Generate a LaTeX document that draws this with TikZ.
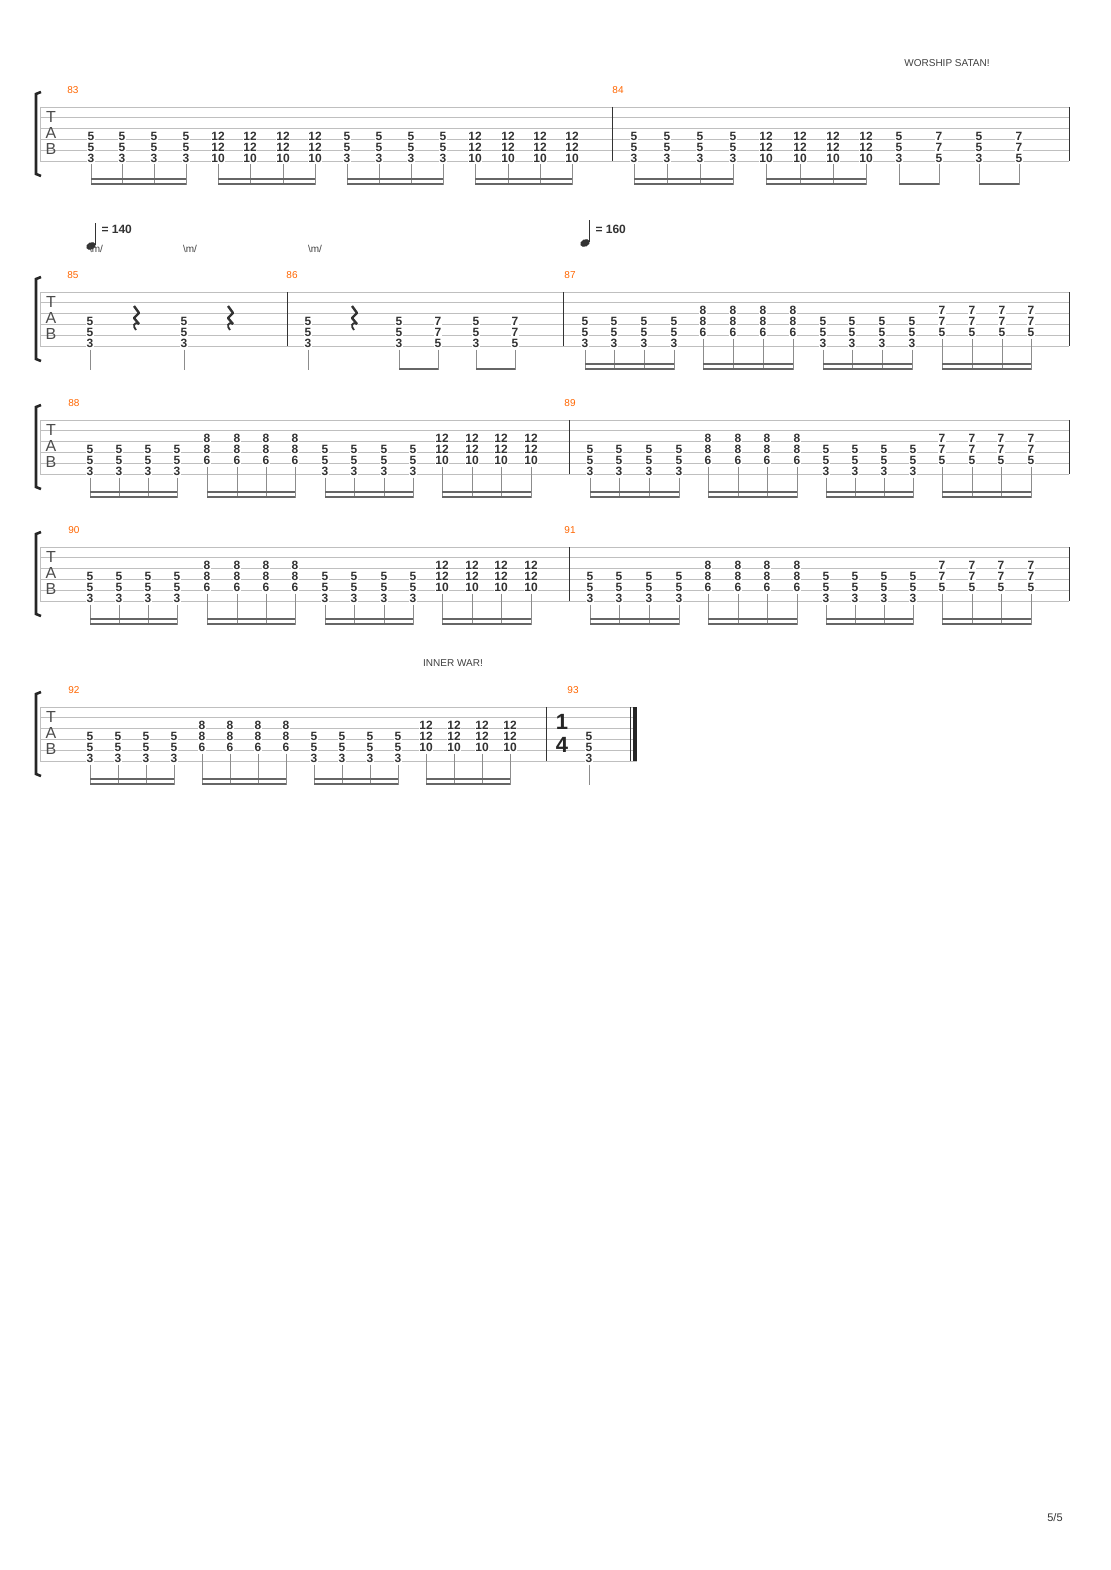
\documentclass[tikz,border=0pt]{standalone}
\usepackage{fontspec}
\setmainfont{Liberation Sans}
\tikzset{
  fret/.style={font=\fontsize{12}{12}\selectfont\bfseries, text=black!80, inner sep=0.2pt, fill=white},
  barnum/.style={font=\fontsize{10}{10}\selectfont, text=orange!80!red},
  staffline/.style={draw=black!25, line width=0.8pt},
  stem/.style={draw=black!45, line width=0.9pt},
  beamline/.style={draw=black!60, line width=2.4pt},
  barline/.style={draw=black!80, line width=1pt},
  lbl/.style={font=\fontsize{10}{10}\selectfont, text=black!75}
}
% chord: x, staff top, lowest string, three frets
\newcommand\chd[6]{%
  \pgfmathsetmacro\yl{#2+(#3-1)*10.8}
  \node[fret] at (#1,\yl-24.4) {#4};
  \node[fret] at (#1,\yl-13.6) {#5};
  \node[fret] at (#1,\yl-2.8) {#6};
  \draw[stem] (#1,\yl+3.5) -- (#1,#2+78);}
% beams: x1, x2, top
\newcommand\beamtwo[3]{\draw[beamline] (#1,#3+72) -- (#2,#3+72); \draw[beamline] (#1,#3+77) -- (#2,#3+77);}
\newcommand\beamone[3]{\draw[beamline] (#1,#3+77) -- (#2,#3+77);}
% staff: top, right end
\newcommand\staff[2]{%
  \foreach \i in {0,...,5} \draw[staffline] (40,#1+\i*10.8) -- (#2,#1+\i*10.8);
  \draw[staffline] (40,#1) -- (40,#1+54);
  \draw[line width=2.6pt, black!85] (41,#1-15) -- (36,#1-13) -- (36,#1+67) -- (41,#1+69);
  \node[font=\fontsize{16}{16}\selectfont, text=black!70] at (51,#1+10) {T};
  \node[font=\fontsize{16}{16}\selectfont, text=black!70] at (51,#1+26) {A};
  \node[font=\fontsize{16}{16}\selectfont, text=black!70] at (51,#1+42) {B};}
\newcommand\qrest[2]{%
  \draw[line width=2.4pt, black!80, line join=round] (#1-2,#2-9) -- (#1+3,#2-2) -- (#1-2,#2+3) -- (#1+3,#2+9);
  \draw[line width=1.8pt, black!80] (#1+3,#2+9) .. controls (#1-3,#2+6) and (#1-3,#2+12) .. (#1,#2+15);}
\newcommand\tnote[2]{%
  \fill[black!80, rotate around={25:(#1,#2)}] (#1,#2) ellipse (5 and 3.6);
  \draw[black!80, line width=0.9pt] (#1+4.3,#2-1) -- (#1+4.3,#2-23);}
\begin{document}
\begin{tikzpicture}[x=1pt,y=-1pt]
\useasboundingbox (0,0) rectangle (1110,1570);
\fill[white] (0,0) rectangle (1110,1570);
\node[lbl] (title1) at (947,63) {WORSHIP SATAN!};
% system 1
\staff{107}{1069}
\draw[barline] (612,107) -- (612,161);
\draw[barline] (1069,107) -- (1069,161);
\node[barnum] (m83) at (73,90) {83};
\node[barnum] (m84) at (618,90) {84};
\foreach \x in {91,122,154,186,347,379,411,443,634,667,700,733,899,979} \chd{\x}{107}{6}{5}{5}{3};
\foreach \x in {218,250,283,315,475,508,540,572,766,800,833,866} \chd{\x}{107}{6}{12}{12}{10};
\foreach \x in {939,1019} \chd{\x}{107}{6}{7}{7}{5};
\foreach \a/\b in {91/186,218/315,347/443,475/572,634/733,766/866} \beamtwo{\a}{\b}{107};
\foreach \a/\b in {899/939,979/1019} \beamone{\a}{\b}{107};
% system 2
\tnote{91}{246}
\node[font=\fontsize{12}{12}\selectfont\bfseries, text=black!80, anchor=west] (t140) at (98,229) {= 140};
\tnote{585}{243}
\node[font=\fontsize{12}{12}\selectfont\bfseries, text=black!80, anchor=west] (t160) at (592,229) {= 160};
\foreach \x in {96,190,315} \node[lbl] at (\x,249) {\textbackslash m/};
\staff{292}{1069}
\draw[barline] (287,292) -- (287,346);
\draw[barline] (563,292) -- (563,346);
\draw[barline] (1069,292) -- (1069,346);
\node[barnum] (m85) at (73,275) {85};
\node[barnum] (m86) at (292,275) {86};
\node[barnum] (m87) at (570,275) {87};
\foreach \x in {90,184,308,399,476} \chd{\x}{292}{6}{5}{5}{3};
\foreach \x in {438,515} \chd{\x}{292}{6}{7}{7}{5};
\foreach \x in {136,230,354} \qrest{\x}{315};
\foreach \a/\b in {399/438,476/515} \beamone{\a}{\b}{292};
\foreach \x in {585,614,644,674,823,852,882,912} \chd{\x}{292}{6}{5}{5}{3};
\foreach \x in {703,733,763,793} \chd{\x}{292}{5}{8}{8}{6};
\foreach \x in {942,972,1002,1031} \chd{\x}{292}{5}{7}{7}{5};
\foreach \a/\b in {585/674,703/793,823/912,942/1031} \beamtwo{\a}{\b}{292};
% systems 3 and 4
\foreach \t/\na/\nb in {420/88/89, 547/90/91}{
  \staff{\t}{1069}
  \draw[barline] (569,\t) -- (569,\t+54);
  \draw[barline] (1069,\t) -- (1069,\t+54);
  \node[barnum] at (74,\t-17) {\na};
  \node[barnum] at (570,\t-17) {\nb};
  \foreach \x in {90,119,148,177,325,354,384,413,590,619,649,679,826,855,884,913} \chd{\x}{\t}{6}{5}{5}{3};
  \foreach \x in {207,237,266,295,708,738,767,797} \chd{\x}{\t}{5}{8}{8}{6};
  \foreach \x in {442,472,501,531} \chd{\x}{\t}{5}{12}{12}{10};
  \foreach \x in {942,972,1001,1031} \chd{\x}{\t}{5}{7}{7}{5};
  \foreach \a/\b in {90/177,207/295,325/413,442/531,590/679,708/797,826/913,942/1031} \beamtwo{\a}{\b}{\t};
}
% system 5
\node[lbl] (title2) at (453,663) {INNER WAR!};
\staff{707}{637}
\draw[barline] (546,707) -- (546,761);
\draw[line width=0.9pt, black!80] (630,707) -- (630,761);
\draw[line width=3.5pt, black!85] (635,707) -- (635,761);
\node[barnum] (m92) at (74,690) {92};
\node[barnum] (m93) at (573,690) {93};
\foreach \x in {90,118,146,174,314,342,370,398,589} \chd{\x}{707}{6}{5}{5}{3};
\foreach \x in {202,230,258,286} \chd{\x}{707}{5}{8}{8}{6};
\foreach \x in {426,454,482,510} \chd{\x}{707}{5}{12}{12}{10};
\foreach \a/\b in {90/174,202/286,314/398,426/510} \beamtwo{\a}{\b}{707};
\node[font=\fontsize{22}{22}\selectfont\bfseries\rmfamily, text=black!85] (ts1) at (562,722) {1};
\node[font=\fontsize{22}{22}\selectfont\bfseries\rmfamily, text=black!85] (ts4) at (562,745) {4};
\node[font=\fontsize{11}{11}\selectfont, text=black!80] (page) at (1055,1518) {5/5};
\end{tikzpicture}
\end{document}
